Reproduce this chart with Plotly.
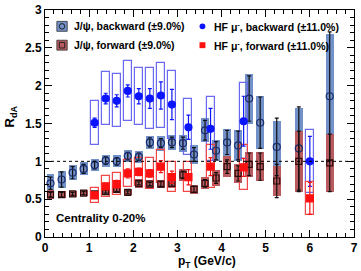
import plotly.graph_objects as go

# ---------------- data ----------------
jpsi_x = [0.125, 0.375, 0.625, 0.875, 1.125, 1.375, 1.625, 1.875, 2.125, 2.375, 2.625, 2.875,
          3.125, 3.375, 3.625, 3.875, 4.125, 4.375, 4.625, 4.875, 5.25, 5.75, 6.45]
jpsi_bwd = [0.71, 0.76, 0.85, 0.90, 0.95, 1.01, 1.00, 1.07, 1.06, 1.25, 1.24, 1.25,
            1.24, 1.09, 1.41, 1.14, 1.25, 1.21, 1.83, 1.51, 1.19, 1.17, 1.86]
jpsi_bwd_stat = [0.08, 0.10, 0.08, 0.06, 0.05, 0.05, 0.05, 0.05, 0.05, 0.06, 0.06, 0.07,
                 0.08, 0.09, 0.13, 0.12, 0.16, 0.19, 0.30, 0.34, 0.38, 0.55, 0.85]
jpsi_bwd_sys = [0.12, 0.11, 0.10, 0.085, 0.08, 0.08, 0.08, 0.08, 0.08, 0.09, 0.10, 0.10,
                0.11, 0.12, 0.16, 0.14, 0.18, 0.20, 0.33, 0.35, 0.34, 0.53, 0.82]
jpsi_fwd = [0.56, 0.56, 0.57, 0.58, 0.57, 0.60, 0.63, 0.59, 0.71, 0.70, 0.70, 0.71,
            0.82, 0.63, 0.71, 0.78, 0.93, 0.84, 0.96, 0.93, 0.74, 1.00, 0.98]
jpsi_fwd_stat = [0.03, 0.03, 0.02, 0.02, 0.02, 0.02, 0.03, 0.02, 0.02, 0.02, 0.03, 0.04,
                 0.05, 0.04, 0.05, 0.07, 0.09, 0.10, 0.15, 0.18, 0.22, 0.40, 0.38]
jpsi_fwd_sys = [0.06, 0.05, 0.04, 0.04, 0.04, 0.04, 0.05, 0.04, 0.06, 0.05, 0.05, 0.06,
                0.08, 0.06, 0.08, 0.11, 0.14, 0.13, 0.17, 0.19, 0.20, 0.40, 0.38]

hf_x = [1.125, 1.375, 1.625, 1.875, 2.125, 2.375, 2.625, 2.875, 3.25, 3.75, 4.5, 6.0]
hf_bwd = [1.51, 1.83, 1.80, 1.93, 1.86, 1.83, 1.87, 1.75, 1.45, 1.43, 1.53, 1.00]
hf_bwd_stat = [0.06, 0.07, 0.08, 0.08, 0.10, 0.13, 0.18, 0.20, 0.16, 0.27, 0.33, 0.33]
hf_bwd_sys = [0.29, 0.35, 0.35, 0.40, 0.38, 0.40, 0.43, 0.45, 0.37, 0.42, 0.50, 0.42]
hf_fwd = [0.55, 0.67, 0.70, 0.84, 0.86, 0.84, 0.93, 0.79, 0.79, 0.93, 0.92, 0.51]
hf_fwd_stat = [0.04, 0.04, 0.05, 0.06, 0.05, 0.05, 0.08, 0.08, 0.10, 0.12, 0.12, 0.21]
hf_fwd_sys = [0.10, 0.14, 0.14, 0.18, 0.18, 0.20, 0.22, 0.20, 0.20, 0.28, 0.30, 0.22]

legend_labels = ["J/ψ, backward (±9.0%)", "J/ψ, forward (±9.0%)",
                 "HF μ<sup>-</sup>, backward (±11.0%)", "HF μ<sup>-</sup>, forward (±11.0%)"]

# ---------------- style ----------------
BLUE_FILL = "#7191c8"
RED_FILL = "#b85a5e"
HF_BLUE = "#0a14ff"
HF_RED = "#ff1010"
BOX_BLUE = "#6a6af0"
BOX_RED = "#f04848"
FONT = "Liberation Sans"
BW = 0.18

fig = go.Figure()


def sys_box(x, y, s, fill, line, lw):
    fig.add_trace(go.Bar(
        x=x, y=[2 * v for v in s], base=[a - b for a, b in zip(y, s)], width=BW,
        marker=dict(color=fill, line=dict(color=line, width=lw)),
        showlegend=False, hoverinfo="skip"))


sys_box(jpsi_x, jpsi_bwd, jpsi_bwd_sys, BLUE_FILL, BLUE_FILL, 0)
sys_box(jpsi_x, jpsi_fwd, jpsi_fwd_sys, RED_FILL, RED_FILL, 0)
sys_box(hf_x, hf_bwd, hf_bwd_sys, "rgba(0,0,0,0)", BOX_BLUE, 1.2)
sys_box(hf_x, hf_fwd, hf_fwd_sys, "rgba(0,0,0,0)", BOX_RED, 1.2)


def points(x, y, e, sym, col, ecol, size):
    fig.add_trace(go.Scatter(
        x=x, y=y, mode="markers",
        marker=dict(symbol=sym, size=size, color=col, line=dict(color=col, width=1.2)),
        error_y=dict(type="data", array=e, color=ecol, thickness=1.2, width=2),
        showlegend=False))


points(jpsi_x, jpsi_bwd, jpsi_bwd_stat, "circle-open", "#1a2a6a", "#101010", 7)
points(jpsi_x, jpsi_fwd, jpsi_fwd_stat, "square-open", "#2a0a0a", "#101010", 6)
points(hf_x, hf_bwd, hf_bwd_stat, "circle", HF_BLUE, HF_BLUE, 7)
points(hf_x, hf_fwd, hf_fwd_stat, "square", HF_RED, HF_RED, 7)

# dotted reference line at 1
fig.add_shape(type="line", xref="x", yref="y", x0=0, x1=7, y0=1, y1=1,
              line=dict(color="black", width=1, dash="dot"))

# ---------------- legend (decoration) ----------------
shapes = []
annos = []
W, H = 313.0, 229.0


def px(xp):
    return (xp - 45) / W


def py(yp):
    return 1 - (yp - 8) / H


for i, (fill, sym) in enumerate([(BLUE_FILL, "circle"), (RED_FILL, "rect")]):
    yc = 24.5 + i * 19
    shapes.append(dict(type="rect", xref="paper", yref="paper",
                       x0=px(57), x1=px(67.5), y0=py(yc - 5), y1=py(yc + 5),
                       fillcolor=fill, line=dict(color="#303030", width=0.8)))
    shapes.append(dict(type=sym, xref="paper", yref="paper",
                       x0=px(59.5), x1=px(65), y0=py(yc - 2.8), y1=py(yc + 2.8),
                       fillcolor="rgba(0,0,0,0)", line=dict(color="#202020", width=1)))
    annos.append(dict(xref="paper", yref="paper", x=px(72), y=py(yc), xanchor="left",
                      yanchor="middle", text=legend_labels[i], showarrow=False,
                      font=dict(family=FONT, size=10.5, color="black", weight="bold")))

for i, (col, sym) in enumerate([(HF_BLUE, "circle"), (HF_RED, "rect")]):
    yc = 24.5 + i * 19
    shapes.append(dict(type=sym, xref="paper", yref="paper",
                       x0=px(201.5), x1=px(207.5), y0=py(yc - 3), y1=py(yc + 3),
                       fillcolor=col, line=dict(color=col, width=0)))
    annos.append(dict(xref="paper", yref="paper", x=px(214), y=py(yc), xanchor="left",
                      yanchor="middle", text=legend_labels[2 + i], showarrow=False,
                      font=dict(family=FONT, size=10.5, color="black", weight="bold")))

annos.append(dict(xref="paper", yref="paper", x=px(54), y=py(218), xanchor="left",
                  yanchor="middle", text="Centrality 0-20%", showarrow=False,
                  font=dict(family=FONT, size=11.5, color="black", weight="bold")))
annos.append(dict(xref="paper", yref="paper", x=px(209), y=py(272), xanchor="center",
                  yanchor="bottom", text="p<sub>T</sub> (GeV/c)", showarrow=False,
                  font=dict(family=FONT, size=12, color="black", weight="bold")))
annos.append(dict(xref="paper", yref="paper", x=px(10), y=py(115), xanchor="center",
                  yanchor="middle", text="R<sub>dA</sub>", showarrow=False, textangle=-90,
                  font=dict(family=FONT, size=13, color="black", weight="bold")))

for s in shapes:
    fig.add_shape(**s)
for a in annos:
    fig.add_annotation(**a)

axis_common = dict(showgrid=False, zeroline=False, showline=True, linecolor="black",
                   linewidth=1, mirror="ticks", ticks="inside", ticklen=7,
                   tickcolor="black", tickfont=dict(family=FONT, size=12, color="black",
                                                    weight="bold"))
fig.update_xaxes(range=[0, 7], dtick=1, tick0=0, ticklabelstandoff=0,
                 minor=dict(ticks="inside", dtick=0.2, ticklen=4, tickcolor="black"),
                 **axis_common)
fig.update_yaxes(range=[0, 3], dtick=0.5, tick0=0,
                 minor=dict(ticks="inside", dtick=0.1, ticklen=4, tickcolor="black"),
                 **axis_common)

fig.update_layout(width=361, height=271, margin=dict(l=45, r=3, t=8, b=34),
                  paper_bgcolor="white", plot_bgcolor="white", barmode="overlay",
                  bargap=0, showlegend=False)

fig.write_html("out.html")
